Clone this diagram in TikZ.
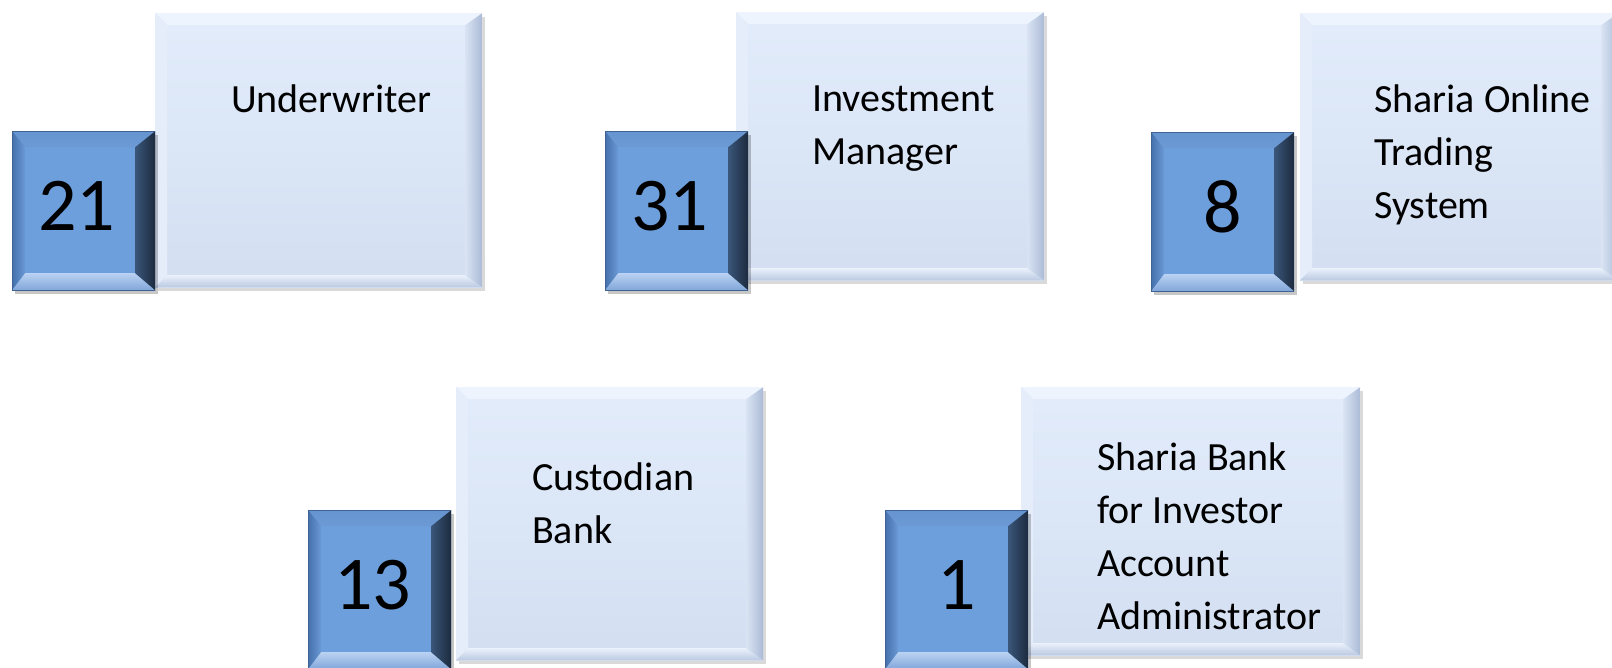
\documentclass[tikz,border=0pt]{standalone}
\usepackage{fontspec}
\setmainfont{Carlito}
\usetikzlibrary{positioning}
\usetikzlibrary{shadows}
\definecolor{cardfacetop}{HTML}{E2ECFB}
\definecolor{cardfacebot}{HTML}{D3DFF1}
\definecolor{cardtopc}{HTML}{EEF4FD}
\definecolor{cardleftc}{HTML}{E5EDFA}
\definecolor{cardrightin}{HTML}{D9E3F3}
\definecolor{cardrightout}{HTML}{ABBBD6}
\definecolor{cardbotin}{HTML}{EAF1FC}
\definecolor{cardbotout}{HTML}{BBC9E1}
\definecolor{numfacec}{HTML}{6D9FDC}
\definecolor{numtopout}{HTML}{6594D0}
\definecolor{numtopin}{HTML}{B4CEF0}
\definecolor{numleftout}{HTML}{4570AB}
\definecolor{numleftin}{HTML}{6C9AD6}
\definecolor{numbotin}{HTML}{BAD2F2}
\definecolor{numbotout}{HTML}{80A6D9}
\definecolor{numrightin}{HTML}{3A5679}
\definecolor{numrightout}{HTML}{1C2A3E}
\definecolor{numedge}{HTML}{3F6293}

\begin{document}
\begin{tikzpicture}[x=1pt,y=-1pt,
  card/.style={anchor=north west, shape=rectangle, inner sep=0pt,
    top color=cardfacetop, bottom color=cardfacebot,
    drop shadow={shadow xshift=3pt, shadow yshift=-4pt, fill=black, opacity=0.15},
    path picture={
      \fill[cardtopc] (path picture bounding box.north west) -- (path picture bounding box.north east)
        -- ([xshift=-17pt,yshift=-12pt]path picture bounding box.north east)
        -- ([xshift=12pt,yshift=-12pt]path picture bounding box.north west) -- cycle;
      \fill[cardleftc] (path picture bounding box.north west) -- (path picture bounding box.south west)
        -- ([xshift=12pt,yshift=12pt]path picture bounding box.south west)
        -- ([xshift=12pt,yshift=-12pt]path picture bounding box.north west) -- cycle;
      \shade[top color=cardbotin, bottom color=cardbotout]
        (path picture bounding box.south west) -- (path picture bounding box.south east)
        -- ([xshift=-17pt,yshift=12pt]path picture bounding box.south east)
        -- ([xshift=12pt,yshift=12pt]path picture bounding box.south west) -- cycle;
      \shade[left color=cardrightin, right color=cardrightout]
        (path picture bounding box.north east) -- (path picture bounding box.south east)
        -- ([xshift=-17pt,yshift=12pt]path picture bounding box.south east)
        -- ([xshift=-17pt,yshift=-12pt]path picture bounding box.north east) -- cycle;
    }},
  numcard/.style={anchor=north west, shape=rectangle, inner sep=0pt,
    minimum width=143pt, minimum height=159pt, fill=numfacec,
    font=\fontsize{76}{76}\selectfont, text depth=10pt,
    drop shadow={shadow xshift=3pt, shadow yshift=-4pt, fill=black, opacity=0.22},
    path picture={
      \shade[top color=numtopout, bottom color=numtopin]
        (path picture bounding box.north west) -- (path picture bounding box.north east)
        -- ([xshift=-20pt,yshift=-16pt]path picture bounding box.north east)
        -- ([xshift=13pt,yshift=-16pt]path picture bounding box.north west) -- cycle;
      \shade[left color=numleftout, right color=numleftin]
        (path picture bounding box.north west) -- (path picture bounding box.south west)
        -- ([xshift=13pt,yshift=17pt]path picture bounding box.south west)
        -- ([xshift=13pt,yshift=-16pt]path picture bounding box.north west) -- cycle;
      \shade[top color=numbotin, bottom color=numbotout]
        (path picture bounding box.south west) -- (path picture bounding box.south east)
        -- ([xshift=-20pt,yshift=17pt]path picture bounding box.south east)
        -- ([xshift=13pt,yshift=17pt]path picture bounding box.south west) -- cycle;
      \shade[left color=numrightin, right color=numrightout]
        (path picture bounding box.north east) -- (path picture bounding box.south east)
        -- ([xshift=-20pt,yshift=17pt]path picture bounding box.south east)
        -- ([xshift=-20pt,yshift=-16pt]path picture bounding box.north east) -- cycle;
      \draw[numedge, line width=1.2pt] (path picture bounding box.north west) rectangle (path picture bounding box.south east);
    }},
  twodigit/.style={execute at begin node={\hspace*{-14pt}}},
  cardtext/.style={anchor=north west, inner sep=0pt, align=left,
    font=\fontsize{40}{53}\selectfont}]

\useasboundingbox[fill=white] (0,0) rectangle (1612,668);

% top row
\node[card, minimum width=327pt, minimum height=274pt] (uw) at (155,13) {};
\node[numcard, twodigit] (uwnum) at (12,131) {21};
\node[cardtext, below right=72pt and 76pt of uw.north west] (uwtext) {Underwriter};

\node[card, minimum width=308pt, minimum height=268pt] (im) at (736,12) {};
\node[numcard, twodigit] (imnum) at (605,131) {31};
\node[cardtext, below right=74pt and 76pt of im.north west] (imtext) {Investment\\Manager};

\node[card, minimum width=318pt, minimum height=267pt] (sot) at (1300,13) {};
\node[numcard] (sotnum) at (1151,132) {8};
\node[cardtext, below right=72pt and 74pt of sot.north west] (sottext) {Sharia Online\\Trading\\System};

% bottom row
\node[card, minimum width=307pt, minimum height=273pt] (cb) at (456,387) {};
\node[numcard, twodigit] (cbnum) at (308,510) {13};
\node[cardtext, below right=76pt and 76pt of cb.north west] (cbtext) {Custodian\\Bank};

\node[card, minimum width=339pt, minimum height=268pt] (sb) at (1021,387) {};
\node[numcard] (sbnum) at (885,510) {1};
\node[cardtext, below right=56pt and 76pt of sb.north west] (sbtext) {Sharia Bank\\for Investor\\Account\\Administrator};

\end{tikzpicture}
\end{document}
